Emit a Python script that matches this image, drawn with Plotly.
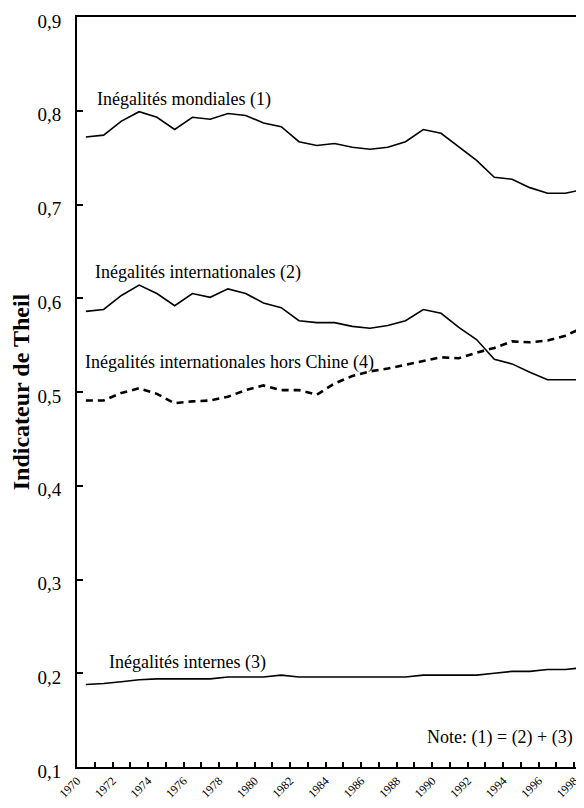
import plotly.graph_objects as go

years = list(range(1970, 1999))

mondiales = [0.772, 0.774, 0.789, 0.799, 0.793, 0.780, 0.793, 0.791, 0.797, 0.795,
             0.787, 0.783, 0.767, 0.763, 0.765, 0.761, 0.759, 0.761, 0.767, 0.780,
             0.776, 0.762, 0.747, 0.729, 0.727, 0.718, 0.712, 0.712, 0.716]

internationales = [0.586, 0.588, 0.603, 0.614, 0.605, 0.592, 0.605, 0.601, 0.610, 0.605,
                   0.595, 0.590, 0.576, 0.574, 0.574, 0.570, 0.568, 0.571, 0.576, 0.588,
                   0.584, 0.569, 0.556, 0.535, 0.530, 0.521, 0.513, 0.513, 0.513]

hors_chine = [0.491, 0.491, 0.499, 0.504, 0.498, 0.488, 0.490, 0.491, 0.495, 0.502,
              0.507, 0.502, 0.502, 0.497, 0.509, 0.517, 0.522, 0.525, 0.529, 0.533,
              0.537, 0.536, 0.542, 0.547, 0.554, 0.553, 0.555, 0.560, 0.569]

internes = [0.188, 0.189, 0.191, 0.193, 0.194, 0.194, 0.194, 0.194, 0.196, 0.196,
            0.196, 0.198, 0.196, 0.196, 0.196, 0.196, 0.196, 0.196, 0.196, 0.198,
            0.198, 0.198, 0.198, 0.200, 0.202, 0.202, 0.204, 0.204, 0.206]

label_years = list(range(1970, 1999, 2))
y_ticks = [0.1, 0.2, 0.3, 0.4, 0.5, 0.6, 0.7, 0.8, 0.9]
y_tick_text = ["0,1", "0,2", "0,3", "0,4", "0,5", "0,6", "0,7", "0,8", "0,9"]

FONT = "Times New Roman, Liberation Serif, DejaVu Serif, serif"

fig = go.Figure()
fig.add_trace(go.Scatter(x=years, y=mondiales, mode="lines",
                         line=dict(color="black", width=1.6), name="(1)"))
fig.add_trace(go.Scatter(x=years, y=internationales, mode="lines",
                         line=dict(color="black", width=1.6), name="(2)"))
fig.add_trace(go.Scatter(x=years, y=hors_chine, mode="lines",
                         line=dict(color="black", width=2.6, dash="7px,5px"), name="(4)"))
fig.add_trace(go.Scatter(x=years, y=internes, mode="lines",
                         line=dict(color="black", width=1.6), name="(3)"))

annots = [
    ("Inégalités mondiales (1)", 1970.5, 0.8125),
    ("Inégalités internationales (2)", 1970.4, 0.628),
    ("Inégalités internationales hors Chine (4)", 1969.83, 0.532),
    ("Inégalités internes (3)", 1971.2, 0.212),
]
for text, x, y in annots:
    fig.add_annotation(x=x, y=y, text=text, showarrow=False, xanchor="left",
                       yanchor="middle", font=dict(family=FONT, size=18, color="black"))

fig.add_annotation(x=1997.55, y=0.131, text="Note: (1) = (2) + (3)", showarrow=False,
                   xanchor="right", yanchor="middle",
                   font=dict(family=FONT, size=18, color="black"))

fig.update_layout(
    width=568, height=792,
    margin=dict(l=69, r=0, t=9, b=33),
    paper_bgcolor="white", plot_bgcolor="white",
    showlegend=False,
    font=dict(family=FONT, color="black"),
    xaxis=dict(
        range=[1969.5, 1997.6], automargin=False,
        tickmode="array", tickvals=[y - 0.5 for y in label_years],
        ticktext=[str(y) for y in label_years],
        tickangle=-45, ticks="", showgrid=False, zeroline=False,
        tickfont=dict(family=FONT, size=12, color="black"),
        ticklabelstandoff=0, ticklabeloverflow="allow",
        showline=True, linecolor="black", linewidth=2, mirror=True,
        minor=dict(tickmode="array",
                   tickvals=[y + 0.5 for y in years[:-1]],
                   ticks="inside", ticklen=5, tickcolor="black", tickwidth=1.5,
                   showgrid=False),
    ),
    yaxis=dict(
        range=[0.1, 0.9], automargin=False,
        tickmode="array", tickvals=y_ticks, ticktext=y_tick_text,
        ticks="inside", ticklen=6, tickcolor="black", tickwidth=1.5,
        showgrid=False, zeroline=False,
        tickfont=dict(family=FONT, size=19, color="black"),
        ticklabelstandoff=10, ticklabelshift=4, ticklabeloverflow="allow",
        showline=True, linecolor="black", linewidth=2,
        title=dict(text="<b>Indicateur de Theil</b>", standoff=6,
                   font=dict(family=FONT, size=24, color="black")),
    ),
)

fig.write_html("out.html")
